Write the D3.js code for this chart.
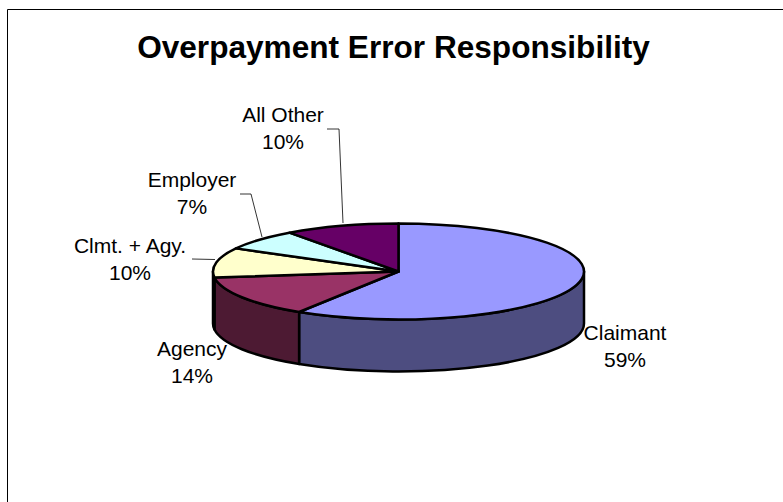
<!DOCTYPE html>
<html>
<head>
<meta charset="utf-8">
<script src="https://cdnjs.cloudflare.com/ajax/libs/d3/7.8.5/d3.min.js"></script>
<style>
html,body{margin:0;padding:0;background:#fff}
svg{display:block}
text{font-family:"Liberation Sans",Arial,sans-serif;fill:#000}
</style>
</head>
<body>
<svg id="chart" width="783" height="502"></svg>
<script>
// Slice values, in percent, clockwise from twelve o'clock
const categories = ["Claimant", "Agency", "Clmt. + Agy.", "Employer", "All Other"];
const shares = [59, 14, 10, 7, 10];
const topColors = ["#9999ff", "#993366", "#ffffcc", "#ccffff", "#660066"];
const wallColors = ["#4d4d80", "#4d1a33", "#808066", "#668080", "#330033"];

// Label placement: text centre and first baseline, plus optional leader polyline
const labelSpots = [
  {x: 625, y: 340, leader: null},
  {x: 192, y: 356, leader: null},
  {x: 130, y: 253, leader: [[192, 259], [215, 259.5]]},
  {x: 192, y: 187, leader: [[240, 194], [251, 194], [262, 237]]},
  {x: 283, y: 122, leader: [[327, 129], [339, 129], [343, 223]]}
];

const W = 783, H = 502;
const cx = 398.5, cy = 271.5, rx = 185.5, ry = 48, depth = 52;
const lineGap = 27;

const svg = d3.select("#chart");

// Chart frame: only the top and left edges fall inside the window
svg.append("path")
  .attr("d", `M7.5,${H}V9.5H${W}`)
  .attr("fill", "none").attr("stroke", "#000").attr("stroke-width", 1);

svg.append("text")
  .attr("x", 393.5).attr("y", 58)
  .attr("text-anchor", "middle")
  .style("font-size", "31.6px").style("font-weight", "bold")
  .text("Overpayment Error Responsibility");

const arcs = d3.pie().sort(null).value(d => d)(shares);

// A point on the upper rim; the angle runs clockwise from the top
const rim = a => [cx + rx * Math.sin(a), cy - ry * Math.cos(a)];

const topSlice = d => {
  const [sx, sy] = rim(d.startAngle);
  const [ex, ey] = rim(d.endAngle);
  const large = d.endAngle - d.startAngle > Math.PI ? 1 : 0;
  return `M${cx},${cy}L${sx},${sy}A${rx},${ry} 0 ${large} 1 ${ex},${ey}Z`;
};

// Side wall of the part of a slice that faces the viewer (lower half of the ellipse)
const wallSlice = d => {
  const a0 = Math.max(d.startAngle, Math.PI / 2);
  const a1 = Math.min(d.endAngle, 3 * Math.PI / 2);
  if (a1 <= a0) return null;
  const [x0, y0] = rim(a0), [x1, y1] = rim(a1);
  return `M${x0},${y0}A${rx},${ry} 0 0 1 ${x1},${y1}` +
         `V${y1 + depth}A${rx},${ry} 0 0 0 ${x0},${y0 + depth}Z`;
};

const edgeWidth = 2.5;

svg.append("g").selectAll("path")
  .data(arcs.filter(wallSlice))
  .join("path")
  .attr("d", wallSlice)
  .attr("fill", d => wallColors[d.index])
  .attr("stroke", "#000").attr("stroke-width", edgeWidth)
  .attr("stroke-linejoin", "round");

svg.append("g").selectAll("path")
  .data(arcs)
  .join("path")
  .attr("d", topSlice)
  .attr("fill", d => topColors[d.index])
  .attr("stroke", "#000").attr("stroke-width", edgeWidth)
  .attr("stroke-linejoin", "round");

// Leader lines
svg.append("g").selectAll("path")
  .data(labelSpots.filter(s => s.leader))
  .join("path")
  .attr("d", s => d3.line()(s.leader))
  .attr("fill", "none").attr("stroke", "#000").attr("stroke-width", 0.8);

// Two-line data labels: name, then percentage
const labels = svg.append("g").selectAll("text")
  .data(arcs)
  .join("text")
  .attr("text-anchor", "middle")
  .style("font-size", "21px");
labels.append("tspan")
  .attr("x", d => labelSpots[d.index].x)
  .attr("y", d => labelSpots[d.index].y)
  .text(d => categories[d.index]);
labels.append("tspan")
  .attr("x", d => labelSpots[d.index].x)
  .attr("y", d => labelSpots[d.index].y + lineGap)
  .text(d => d.value + "%");
</script>
</body>
</html>
